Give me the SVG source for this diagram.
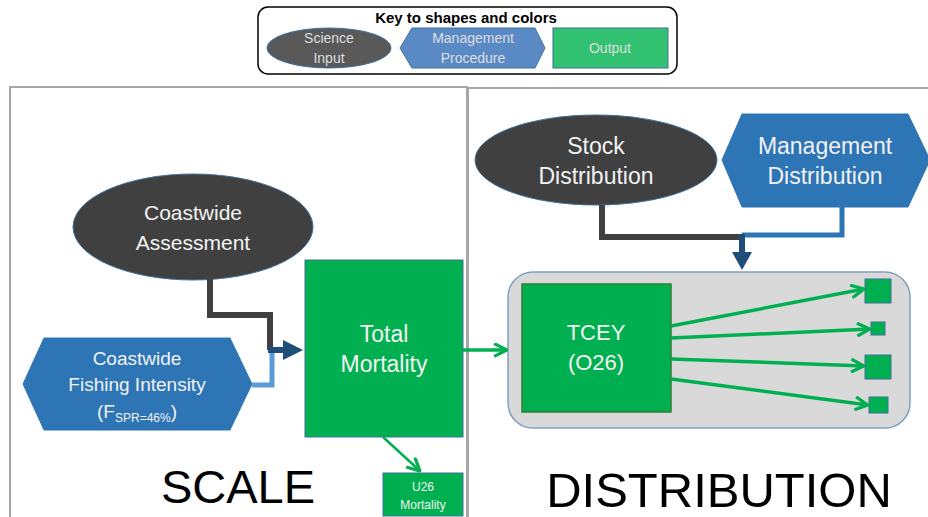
<svg xmlns="http://www.w3.org/2000/svg" width="928" height="517" viewBox="0 0 928 517">
<defs>
<style>
.t{font-family:"Liberation Sans",Arial,sans-serif;fill:#f2f2f2;text-anchor:middle}
.kt{font-family:"Liberation Sans",Arial,sans-serif;fill:#dedede;text-anchor:middle;font-size:14px}
.big{font-family:"Liberation Sans",Arial,sans-serif;fill:#000;text-anchor:middle}
.frame{fill:none;stroke:#a6a6a6;stroke-width:2}
.sci{fill:#404040;stroke:#41719c;stroke-width:1}
.mgmt{fill:#2e75b6;stroke:#2e75b6;stroke-width:1}
.out{fill:#00b050;stroke:#41719c;stroke-width:1}
.g{fill:none;stroke:#00b050;stroke-width:3.5;marker-end:url(#chev)}
</style>
<marker id="chev" viewBox="0 0 14 14" refX="13" refY="7" markerWidth="15" markerHeight="15" markerUnits="userSpaceOnUse" orient="auto">
<path d="M1,1 L13,7 L1,13" fill="none" stroke="#00b050" stroke-width="3"/>
</marker>
</defs>
<rect width="928" height="517" fill="#fff"/>

<g id="key">
<rect x="258" y="7" width="419" height="67" rx="10" fill="#fff" stroke="#000" stroke-width="1.5"/>
<text x="466" y="23" font-family="Liberation Sans,Arial,sans-serif" font-weight="bold" font-size="15" text-anchor="middle" fill="#000">Key to shapes and colors</text>
<ellipse cx="329" cy="48" rx="62" ry="20" fill="#595959" stroke="#41719c" stroke-width="1"/>
<text class="kt" x="329" y="43">Science</text>
<text class="kt" x="329" y="63">Input</text>
<polygon points="400,48 412,28 535,28 545,48 535,68 412,68" fill="#5a8ac6" stroke="#41719c" stroke-width="1"/>
<text class="kt" x="473" y="43">Management</text>
<text class="kt" x="473" y="63">Procedure</text>
<rect x="553" y="28" width="115" height="40" fill="#33c271" stroke="#41719c" stroke-width="1"/>
<text class="kt" x="610" y="53">Output</text>
</g>

<g id="frames">
<rect class="frame" x="10" y="87" width="457" height="440"/>
<rect class="frame" x="468" y="88" width="470" height="440"/>
</g>

<g id="coastwide-assessment">
<ellipse class="sci" cx="193" cy="227" rx="120" ry="53"/>
<text class="t" x="193" y="220" font-size="21">Coastwide</text>
<text class="t" x="193" y="250" font-size="21">Assessment</text>
</g>

<g id="coastwide-fishing-intensity">
<polygon class="mgmt" points="23,384 44,338 230,338 252,384 230,430 44,430"/>
<text class="t" x="137" y="365" font-size="19">Coastwide</text>
<text class="t" x="137" y="391" font-size="19">Fishing Intensity</text>
<text class="t" x="137" y="418" font-size="19">(F<tspan font-size="12" dy="4">SPR=46%</tspan><tspan dy="-4">)</tspan></text>
</g>

<g id="total-mortality">
<rect class="out" x="305" y="260" width="158" height="177"/>
<text class="t" x="384" y="342" font-size="23">Total</text>
<text class="t" x="384" y="372" font-size="23">Mortality</text>
</g>

<g id="u26-mortality">
<rect class="out" x="383" y="473" width="80" height="43"/>
<text class="t" x="423" y="491" font-size="12">U26</text>
<text class="t" x="423" y="509" font-size="12">Mortality</text>
</g>

<text class="big" x="238" y="503" font-size="47">SCALE</text>

<g id="stock-distribution">
<ellipse class="sci" cx="596" cy="160" rx="121" ry="45"/>
<text class="t" x="596" y="154" font-size="23">Stock</text>
<text class="t" x="596" y="184" font-size="23">Distribution</text>
</g>

<g id="management-distribution">
<polygon class="mgmt" points="722,160 742,114 908,114 930,160 908,207 742,207"/>
<text class="t" x="825" y="154" font-size="23">Management</text>
<text class="t" x="825" y="184" font-size="23">Distribution</text>
</g>

<g id="distribution-box">
<rect x="508" y="272" width="402" height="156" rx="25" fill="#d9d9d9" stroke="#7f9fc0" stroke-width="1.5"/>
</g>

<g id="tcey">
<rect x="522" y="284" width="149" height="128" fill="#00b050" stroke="#2e7d32" stroke-width="1.5"/>
<text class="t" x="596" y="340" font-size="22">TCEY</text>
<text class="t" x="596" y="370" font-size="22">(O26)</text>
</g>

<g id="out1"><rect class="out" x="865" y="279" width="26" height="24"/></g>
<g id="out2"><rect class="out" x="871" y="322" width="14" height="13"/></g>
<g id="out3"><rect class="out" x="865" y="355" width="26" height="24"/></g>
<g id="out4"><rect class="out" x="869" y="397" width="19" height="16"/></g>

<text class="big" x="719" y="507" font-size="49">DISTRIBUTION</text>

<g id="connectors">
<polyline points="210,279 210,315 270,315 270,350" fill="none" stroke="#404040" stroke-width="6"/>
<polyline points="252,385 272,385 272,353" fill="none" stroke="#5b9bd5" stroke-width="5"/>
<line x1="268" y1="350" x2="285" y2="350" stroke="#1f4e79" stroke-width="6"/>
<polygon points="283,340 303,350 283,360" fill="#1f4e79"/>
<polyline points="602,205 602,237 742,237" fill="none" stroke="#404040" stroke-width="6"/>
<polyline points="842,207 842,235 742,235" fill="none" stroke="#2e75b6" stroke-width="5"/>
<line x1="742" y1="234" x2="742" y2="255" stroke="#1f4e79" stroke-width="6"/>
<polygon points="732,252 742,270 752,252" fill="#1f4e79"/>
<line class="g" x1="383" y1="437" x2="420" y2="471" style="stroke-width:2.5"/>
<line class="g" x1="463" y1="350" x2="507" y2="350"/>
<line class="g" x1="671" y1="326" x2="864" y2="289"/>
<line class="g" x1="671" y1="338" x2="870" y2="329"/>
<line class="g" x1="671" y1="359" x2="864" y2="366"/>
<line class="g" x1="671" y1="379" x2="868" y2="405"/>
</g>
</svg>
